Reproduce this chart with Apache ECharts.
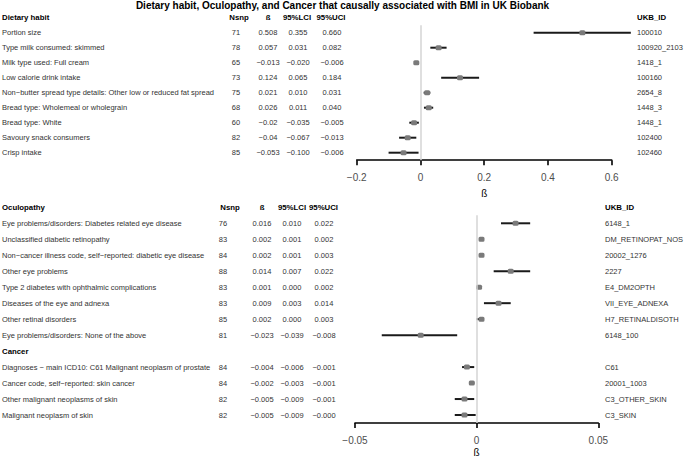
<!DOCTYPE html>
<html>
<head>
<meta charset="utf-8">
<script src="https://cdn.jsdelivr.net/npm/echarts@6/dist/echarts.min.js"></script>
<style>html,body{margin:0;padding:0;background:#fff;}#c{width:685px;height:458px;}</style>
</head>
<body>
<div id="c"></div>
<script>
// ---------- DATA ----------
const chartTitle = 'Dietary habit, Oculopathy, and Cancer that causally associated with BMI in UK Biobank';
const tableHeaders = ['Nsnp', 'ß', '95%LCI', '95%UCI', 'UKB_ID'];

const dietLabels = ['Portion size', 'Type milk consumed: skimmed', 'Milk type used: Full cream', 'Low calorie drink intake',
  'Non\u2212butter spread type details: Other low or reduced fat spread', 'Bread type: Wholemeal or wholegrain',
  'Bread type: White', 'Savoury snack consumers', 'Crisp intake'];
const dietNsnp = [71, 78, 65, 73, 75, 68, 60, 82, 85];
const dietBeta = [0.508, 0.057, -0.013, 0.124, 0.021, 0.026, -0.02, -0.04, -0.053];
const dietLCI = [0.355, 0.031, -0.020, 0.065, 0.010, 0.011, -0.035, -0.067, -0.100];
const dietUCI = [0.660, 0.082, -0.006, 0.184, 0.031, 0.040, -0.005, -0.013, -0.006];
const dietIDs = ['100010', '100920_2103', '1418_1', '100160', '2654_8', '1448_3', '1448_1', '102400', '102460'];

const ocuLabels = ['Eye problems/disorders: Diabetes related eye disease', 'Unclassified diabetic retinopathy',
  'Non\u2212cancer illness code, self\u2212reported: diabetic eye disease', 'Other eye problems',
  'Type 2 diabetes with ophthalmic complications', 'Diseases of the eye and adnexa', 'Other retinal disorders',
  'Eye problems/disorders: None of the above'];
const ocuNsnp = [76, 83, 84, 88, 83, 83, 85, 81];
const ocuBeta = [0.016, 0.002, 0.002, 0.014, 0.001, 0.009, 0.002, -0.023];
const ocuLCI = [0.010, 0.001, 0.001, 0.007, 0.000, 0.003, 0.000, -0.039];
const ocuUCI = [0.022, 0.002, 0.003, 0.022, 0.002, 0.014, 0.003, -0.008];
const ocuIDs = ['6148_1', 'DM_RETINOPAT_NOS', '20002_1276', '2227', 'E4_DM2OPTH', 'VII_EYE_ADNEXA', 'H7_RETINALDISOTH', '6148_100'];

const canLabels = ['Diagnoses \u2212 main ICD10: C61 Malignant neoplasm of prostate', 'Cancer code, self\u2212reported: skin cancer',
  'Other malignant neoplasms of skin', 'Malignant neoplasm of skin'];
const canNsnp = [84, 84, 82, 82];
const canBeta = [-0.004, -0.002, -0.005, -0.005];
const canLCI = [-0.006, -0.003, -0.009, -0.009];
const canUCI = [-0.001, -0.001, -0.001, -0.0004];
const canIDs = ['C61', '20001_1003', 'C3_OTHER_SKIN', 'C3_SKIN'];

const topGroup = 'Dietary habit';
const bottomGroup = 'Oculopathy';
const cancerGroup = 'Cancer';

const topTicks = [-0.2, 0, 0.2, 0.4, 0.6];
const bottomTicks = [-0.05, 0, 0.05];

// ---------- helpers ----------
const minus = s => String(s).replace('-', '\u2212');
const fmtBeta = v => minus(String(v));
const fmtCI = v => minus(v.toFixed(3));

function buildRows(labels, nsnp, beta, lci, uci, ids) {
  return labels.map((l, i) => ({label: l, nsnp: nsnp[i], beta: beta[i], lci: lci[i], uci: uci[i], id: ids[i]}));
}
const topRows = buildRows(dietLabels, dietNsnp, dietBeta, dietLCI, dietUCI, dietIDs);
const bottomRows = buildRows(ocuLabels, ocuNsnp, ocuBeta, ocuLCI, ocuUCI, ocuIDs)
  .concat([{header: cancerGroup}])
  .concat(buildRows(canLabels, canNsnp, canBeta, canLCI, canUCI, canIDs));

// ---------- layout ----------
const FONT = '"Liberation Sans", Arial, sans-serif';
const TXT = '#333';
const BODY = '7.5px ';
const HEAD = 'bold 7.8px ';
const topLayout = {left: 356.7, width: 255, top: 25.2, rowH: 15, cols: {nsnp: 236, beta: 268, lci: 298, uci: 332, id: 637},
  hcols: {nsnp: 239, beta: 268, lci: 297, uci: 331, id: 637}};
const botLayout = {left: 355, width: 243.3, top: 215.3, rowH: 16, cols: {nsnp: 223, beta: 262, lci: 292, uci: 324, id: 605},
  hcols: {nsnp: 230, beta: 262, lci: 292, uci: 323.5, id: 605}};

function textEl(x, y, s, align, bold) {
  return {type: 'text', x: x, y: y, style: {text: s, x: 0, y: 0, align: align, verticalAlign: 'middle',
    fill: bold ? '#000' : TXT, font: (bold ? HEAD : BODY) + FONT}};
}

function tableRender(rows, lay) {
  return function (params, api) {
    const idx = api.value(1);
    const r = rows[idx];
    const y = api.coord([0, idx])[1];
    if (r.header) {
      return {type: 'group', children: [textEl(2, y, r.header, 'left', true)]};
    }
    const c = lay.cols;
    return {type: 'group', children: [
      textEl(2, y, r.label, 'left', false),
      textEl(c.nsnp, y, String(r.nsnp), 'center', false),
      textEl(c.beta, y, fmtBeta(r.beta), 'center', false),
      textEl(c.lci, y, fmtCI(r.lci), 'center', false),
      textEl(c.uci, y, fmtCI(r.uci), 'center', false),
      textEl(c.id, y, r.id, 'left', false)
    ]};
  };
}

function errRender(params, api) {
  const lo = api.coord([api.value(0), api.value(2)]);
  const hi = api.coord([api.value(1), api.value(2)]);
  const mid = api.coord([api.value(3), api.value(2)]);
  return {type: 'group', children: [
    {type: 'line', shape: {x1: lo[0], y1: lo[1], x2: hi[0], y2: hi[1]}, style: {stroke: '#1a1a1a', lineWidth: 2}},
    {type: 'rect', shape: {x: mid[0] - 3, y: mid[1] - 2.5, width: 6, height: 5, r: 1.5}, style: {fill: '#7a7a7a'}}
  ]};
}

function headerGraphics(title, lay) {
  const y = lay.top - lay.rowH / 2;
  const h = lay.hcols;
  const t = (x, s, align) => ({type: 'text', x: x, y: y,
    style: {text: s, align: align, verticalAlign: 'middle', font: HEAD + FONT, fill: '#000'}});
  return [t(2, title, 'left'), t(h.nsnp, tableHeaders[0], 'center'), t(h.beta, tableHeaders[1], 'center'),
    t(h.lci, tableHeaders[2], 'center'), t(h.uci, tableHeaders[3], 'center'), t(h.id, tableHeaders[4], 'left')];
}

function xAxisCfg(gridIndex, ticks, nameGap) {
  return {
    type: 'value', gridIndex: gridIndex, min: ticks[0], max: ticks[ticks.length - 1],
    interval: ticks[1] - ticks[0],
    name: 'ß', nameLocation: 'middle', nameGap: nameGap,
    nameTextStyle: {color: '#000', fontSize: 10, fontFamily: FONT},
    axisLine: {show: true, onZero: false, lineStyle: {color: '#000', width: 1.6}},
    axisTick: {show: true, length: 5, lineStyle: {color: '#000', width: 1.6}},
    axisLabel: {color: '#4d4d4d', fontSize: 10, fontFamily: FONT, margin: 12,
      formatter: v => minus(String(Math.round(v * 1000) / 1000))},
    splitLine: {show: false}
  };
}

function yAxisCfg(gridIndex, rows) {
  return {type: 'category', gridIndex: gridIndex, inverse: true, data: rows.map((r, i) => i),
    show: false, axisLine: {show: false}, axisTick: {show: false}, axisLabel: {show: false}, splitLine: {show: false}};
}

function zeroLine(xi, yi) {
  return {type: 'line', xAxisIndex: xi, yAxisIndex: yi, data: [], z: 1, silent: true,
    markLine: {silent: true, symbol: ['none', 'none'], label: {show: false},
      lineStyle: {color: '#d4d4d4', width: 1.5, type: 'solid'}, data: [{xAxis: 0}]}};
}

function errData(rows) {
  const out = [];
  rows.forEach((r, i) => { if (!r.header) out.push([r.lci, r.uci, i, r.beta]); });
  return out;
}

const chart = echarts.init(document.getElementById('c'), null, {renderer: 'svg'});
chart.setOption({
  animation: false,
  backgroundColor: '#fff',
  title: {text: chartTitle, left: 'center', top: 0, padding: 0,
    textStyle: {fontSize: 10, fontWeight: 'bold', color: '#000', fontFamily: FONT}},
  grid: [
    {left: topLayout.left, width: topLayout.width, top: topLayout.top, height: topLayout.rowH * topRows.length},
    {left: botLayout.left, width: botLayout.width, top: botLayout.top, height: botLayout.rowH * bottomRows.length}
  ],
  xAxis: [xAxisCfg(0, topTicks, 28), xAxisCfg(1, bottomTicks, 24)],
  yAxis: [yAxisCfg(0, topRows), yAxisCfg(1, bottomRows)],
  graphic: headerGraphics(topGroup, topLayout).concat(headerGraphics(bottomGroup, botLayout)),
  series: [
    zeroLine(0, 0),
    zeroLine(1, 1),
    {type: 'custom', xAxisIndex: 0, yAxisIndex: 0, z: 3, clip: false, renderItem: errRender,
      encode: {x: [0, 1, 3], y: 2}, data: errData(topRows)},
    {type: 'custom', xAxisIndex: 1, yAxisIndex: 1, z: 3, clip: false, renderItem: errRender,
      encode: {x: [0, 1, 3], y: 2}, data: errData(bottomRows)},
    {type: 'custom', xAxisIndex: 0, yAxisIndex: 0, z: 2, clip: false, renderItem: tableRender(topRows, topLayout),
      encode: {x: 0, y: 1}, data: topRows.map((r, i) => [0, i])},
    {type: 'custom', xAxisIndex: 1, yAxisIndex: 1, z: 2, clip: false, renderItem: tableRender(bottomRows, botLayout),
      encode: {x: 0, y: 1}, data: bottomRows.map((r, i) => [0, i])}
  ]
});
</script>
</body>
</html>
